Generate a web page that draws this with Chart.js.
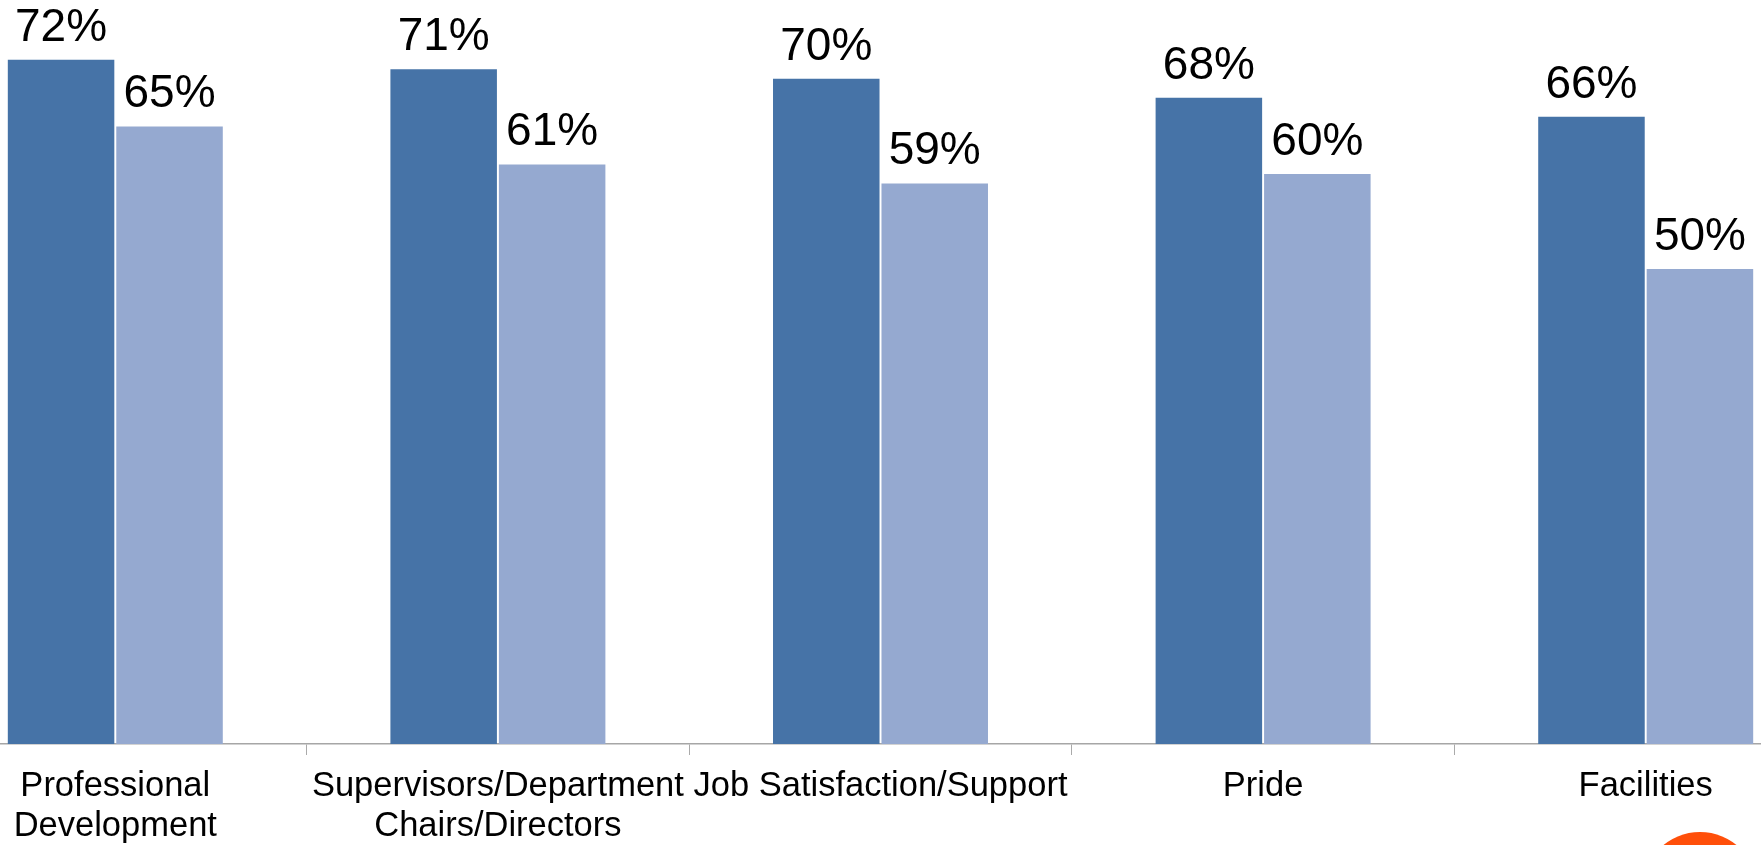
<!DOCTYPE html>
<html>
<head>
<meta charset="utf-8">
<script src="https://cdn.jsdelivr.net/npm/chart.js@4"></script>
<style>
  html, body { margin: 0; padding: 0; width: 1761px; height: 845px; overflow: hidden; background: #fff; }
  #wrap { position: absolute; left: -76px; top: 0; width: 1913px; height: 845px; }
  #logo { position: absolute; left: 1642px; top: 832px; width: 116px; height: 116px; border-radius: 50%; background: #FF4F0A; }
</style>
</head>
<body>
<div id="wrap"><canvas id="c"></canvas></div>
<div id="logo"></div>
<script>
const categories = [
  ["Professional", "Development"],
  ["Supervisors/Department", "Chairs/Directors"],
  ["Job Satisfaction/Support"],
  ["Pride"],
  ["Facilities"]
];
const seriesA = [72, 71, 70, 68, 66];
const seriesB = [65, 61, 59, 60, 50];

const valueLabels = {
  id: 'valueLabels',
  afterDatasetsDraw(chart) {
    const ctx = chart.ctx;
    ctx.save();
    ctx.font = "46px 'Liberation Sans', Arial, sans-serif";
    ctx.fillStyle = '#000';
    ctx.textAlign = 'center';
    ctx.textBaseline = 'alphabetic';
    chart.data.datasets.forEach((ds, i) => {
      chart.getDatasetMeta(i).data.forEach((bar, j) => {
        ctx.fillText(ds.data[j] + '%', bar.x, bar.y - 19);
      });
    });
    ctx.restore();
  }
};

new Chart(document.getElementById('c'), {
  type: 'bar',
  data: {
    labels: categories,
    datasets: [
      { data: seriesA, backgroundColor: '#4673A7', borderWidth: 0 },
      { data: seriesB, backgroundColor: '#95A9D0', borderWidth: 0 }
    ]
  },
  options: {
    responsive: true,
    maintainAspectRatio: false,
    animation: false,
    layout: { padding: 0 },
    categoryPercentage: 0.567,
    barPercentage: 0.982,
    plugins: { legend: { display: false }, tooltip: { enabled: false } },
    scales: {
      x: {
        afterFit(scale) { scale.height = 845 - 744; },
        grid: { display: true, drawOnChartArea: false, drawTicks: true, offset: true, tickLength: 11, color: '#aaaaaa', lineWidth: 1 },
        border: { display: true, color: '#a6a6a6', width: 1.5 },
        ticks: {
          color: '#000',
          padding: 11,
          maxRotation: 0,
          autoSkip: false,
          font: { family: "'Liberation Sans', Arial, sans-serif", size: 34.5, lineHeight: 1.17 }
        }
      },
      y: { display: false, min: 0, max: 78.3 }
    }
  },
  plugins: [valueLabels]
});
</script>
</body>
</html>
